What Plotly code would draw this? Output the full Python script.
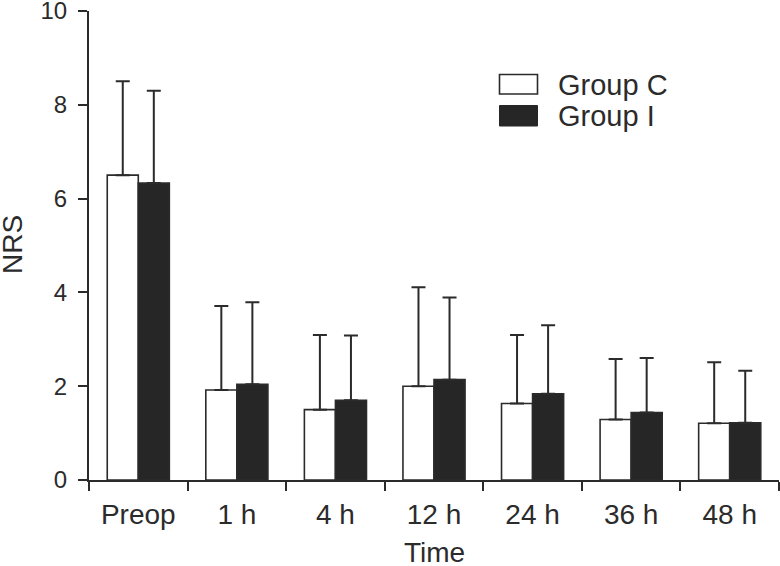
import plotly.graph_objects as go

categories = ["Preop", "1 h", "4 h", "12 h", "24 h", "36 h", "48 h"]
group_c_mean = [6.50, 1.92, 1.50, 2.00, 1.63, 1.29, 1.21]
group_c_sd = [2.00, 1.79, 1.59, 2.11, 1.46, 1.29, 1.30]
group_i_mean = [6.33, 2.04, 1.70, 2.14, 1.84, 1.44, 1.22]
group_i_sd = [1.97, 1.75, 1.38, 1.75, 1.46, 1.16, 1.11]
y_ticks = [0, 2, 4, 6, 8, 10]

FONT = "Liberation Sans, Arial, sans-serif"
INK = "#2b2b2b"
DARK = "#262626"

fig = go.Figure()
fig.add_trace(go.Bar(
    x=categories, y=group_c_mean, name="Group C",
    marker=dict(color="white", line=dict(color=INK, width=1.6)),
    error_y=dict(type="data", symmetric=False, array=group_c_sd,
                 arrayminus=[0] * len(group_c_sd), color=INK, thickness=2, width=7),
))
fig.add_trace(go.Bar(
    x=categories, y=group_i_mean, name="Group I",
    marker=dict(color=DARK, line=dict(color=INK, width=1.6)),
    error_y=dict(type="data", symmetric=False, array=group_i_sd,
                 arrayminus=[0] * len(group_i_sd), color=INK, thickness=2, width=7),
))

# desired plot area in page pixels
L, T, B, R = 89, 11, 480, 779
H = B - T
W = R - L
def px(xp):
    return (xp - L) / W
def py(yp):
    return (B - yp) / H

fig.add_shape(type="rect", xref="paper", yref="paper",
              x0=px(499.5), x1=px(537.5), y0=py(94), y1=py(74.5),
              line=dict(color=INK, width=1.6), fillcolor="white")
fig.add_shape(type="rect", xref="paper", yref="paper",
              x0=px(499.5), x1=px(537.5), y0=py(126), y1=py(105.5),
              line=dict(color=DARK, width=1), fillcolor=DARK)
fig.add_annotation(xref="paper", yref="paper", x=px(556), y=py(84.5),
                   text="Group C", showarrow=False, xanchor="left", yanchor="middle",
                   font=dict(size=29, color=INK, family=FONT))
fig.add_annotation(xref="paper", yref="paper", x=px(556), y=py(116),
                   text="Group I", showarrow=False, xanchor="left", yanchor="middle",
                   font=dict(size=29, color=INK, family=FONT))

# axis titles
fig.add_annotation(xref="paper", yref="paper", x=px(12), y=py(245),
                   text="NRS", showarrow=False, textangle=-90,
                   xanchor="center", yanchor="middle",
                   font=dict(size=28, color=INK, family=FONT))
fig.add_annotation(xref="paper", yref="paper", x=px(434), y=py(552),
                   text="Time", showarrow=False,
                   xanchor="center", yanchor="middle",
                   font=dict(size=28, color=INK, family=FONT))

fig.update_layout(
    template="none",
    width=780, height=566,
    margin=dict(l=L, r=780 - R, t=T, b=566 - B, autoexpand=False),
    paper_bgcolor="white", plot_bgcolor="white",
    barmode="group", bargap=0.37, bargroupgap=0,
    showlegend=False,
    font=dict(family=FONT, size=26, color=INK),
)
fig.update_xaxes(
    automargin=False,
    showline=True, linecolor=INK, linewidth=2,
    ticks="outside", tickson="boundaries", ticklen=9, tickwidth=2, tickcolor=INK,
    tickfont=dict(size=28, color=INK), ticklabelstandoff=8,
    showgrid=False, zeroline=False,
)
fig.update_yaxes(
    automargin=False,
    range=[0, 10], tickvals=y_ticks,
    showline=True, linecolor=INK, linewidth=2,
    ticks="outside", ticklen=9, tickwidth=2, tickcolor=INK,
    tickfont=dict(size=24, color=INK), ticklabeloverflow="allow",
    ticklabelstandoff=6,
    showgrid=False, zeroline=False,
)

fig.write_html("out.html", config={"displayModeBar": False},
               post_script="document.body.style.margin='0px';")
